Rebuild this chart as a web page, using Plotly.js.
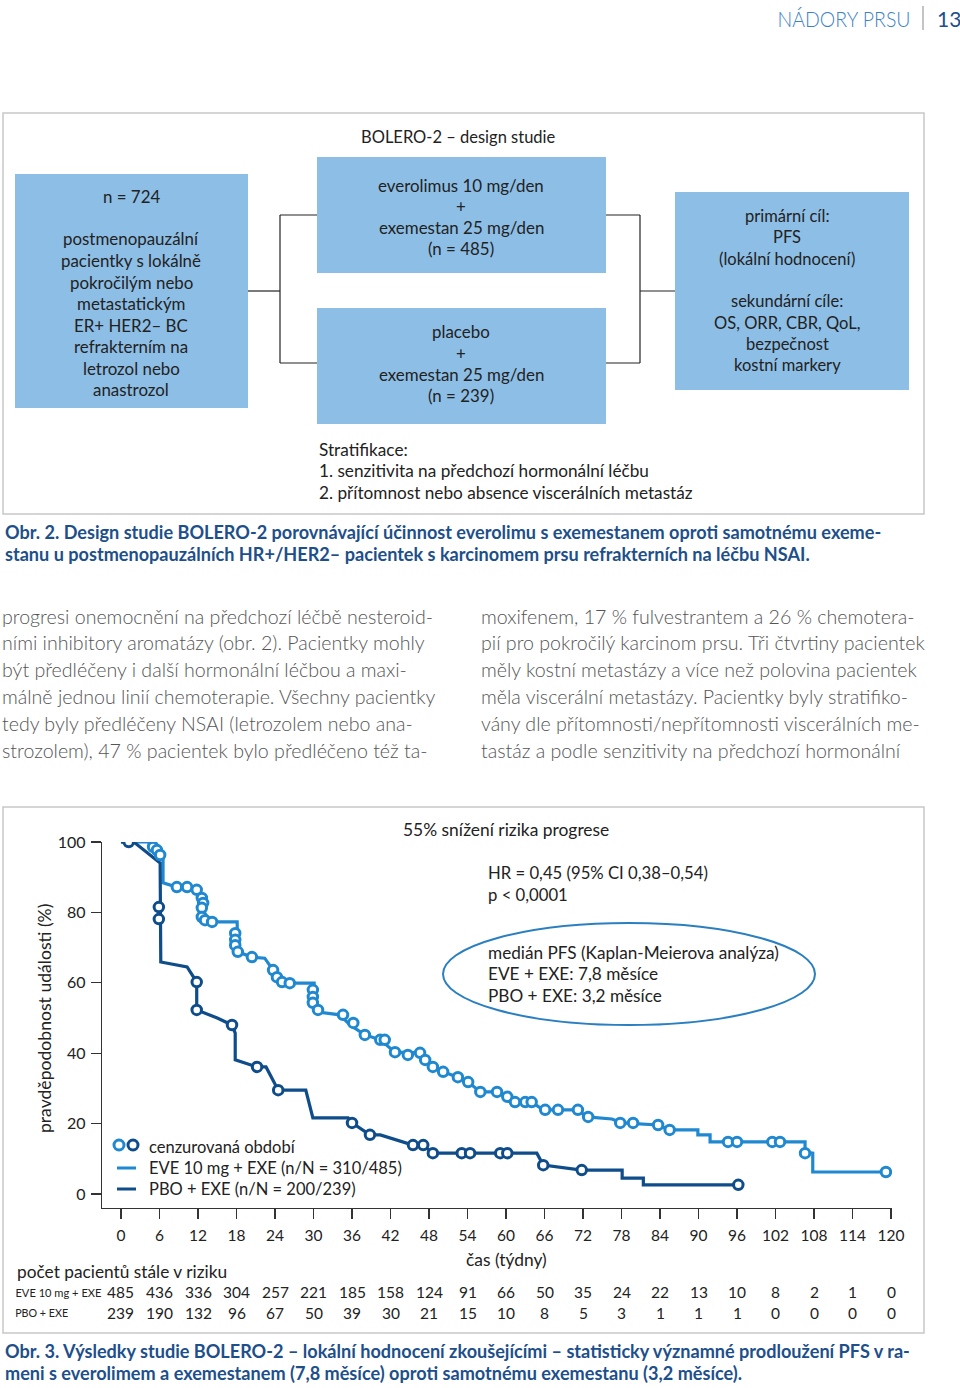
<!DOCTYPE html>
<html><head><meta charset="utf-8">
<script src="https://cdn.plot.ly/plotly-3.0.1.min.js"></script>
<style>html,body{margin:0;padding:0;background:#fff}#chart{width:960px;height:1388px}</style>
</head><body><div id="chart"></div>
<script>
// ---------------- DATA ----------------
const headerSection = "NÁDORY PRSU";
const pageNumber = "13";
const designTitle = "BOLERO-2 – design studie";
const populationLines = ["n = 724", "", "postmenopauzální", "pacientky s lokálně", "pokročilým nebo", "metastatickým", "ER+ HER2– BC", "refrakterním na", "letrozol nebo", "anastrozol"];
const armEveLines = ["everolimus 10 mg/den", "+", "exemestan 25 mg/den", "(n = 485)"];
const armPboLines = ["placebo", "+", "exemestan 25 mg/den", "(n = 239)"];
const endpointLines = ["primární cíl:", "PFS", "(lokální hodnocení)", "", "sekundární cíle:", "OS, ORR, CBR, QoL,", "bezpečnost", "kostní markery"];
const stratLines = ["Stratifikace:", "1. senzitivita na předchozí hormonální léčbu", "2. přítomnost nebo absence viscerálních metastáz"];
const fig2Caption = ["Obr. 2. Design studie BOLERO-2 porovnávající účinnost everolimu s exemestanem oproti samotnému exeme-", "stanu u postmenopauzálních HR+/HER2– pacientek s karcinomem prsu refrakterních na léčbu NSAI."];
const bodyLeft = ["progresi onemocnění na předchozí léčbě nesteroid-", "ními inhibitory aromatázy (obr. 2). Pacientky mohly", "být předléčeny i další hormonální léčbou a maxi-", "málně jednou linií chemoterapie. Všechny pacientky", "tedy byly předléčeny NSAI (letrozolem nebo ana-", "strozolem), 47 % pacientek bylo předléčeno též ta-"];
const bodyRight = ["moxifenem, 17 % fulvestrantem a 26 % chemotera-", "pií pro pokročilý karcinom prsu. Tři čtvrtiny pacientek", "měly kostní metastázy a více než polovina pacientek", "měla viscerální metastázy. Pacientky byly stratifiko-", "vány dle přítomnosti/nepřítomnosti viscerálních me-", "tastáz a podle senzitivity na předchozí hormonální"];
const riskReductionText = "55% snížení rizika progrese";
const hrLines = ["HR = 0,45 (95% CI 0,38–0,54)", "p < 0,0001"];
const medianLines = ["medián PFS (Kaplan-Meierova analýza)", "EVE + EXE: 7,8 měsíce", "PBO + EXE: 3,2 měsíce"];
const legendLabels = ["cenzurovaná období", "EVE 10 mg + EXE (n/N = 310/485)", "PBO + EXE (n/N = 200/239)"];
const yAxisTitle = "pravděpodobnost události (%)";
const xAxisTitle = "čas (týdny)";
const atRiskTitle = "počet pacientů stále v riziku";
const atRiskRowLabels = ["EVE 10 mg + EXE", "PBO + EXE"];
const fig3Caption = ["Obr. 3. Výsledky studie BOLERO-2 – lokální hodnocení zkoušejícími – statisticky významné prodloužení PFS v ra-", "meni s everolimem a exemestanem (7,8 měsíce) oproti samotnému exemestanu (3,2 měsíce)."];

const weekTicks = [0,6,12,18,24,30,36,42,48,54,60,66,72,78,84,90,96,102,108,114,120];
const pctTicks = [0,20,40,60,80,100];
const eveAtRisk = [485,436,336,304,257,221,185,158,124,91,66,50,35,24,22,13,10,8,2,1,0];
const pboAtRisk = [239,190,132,96,67,50,39,30,21,15,10,8,5,3,1,1,1,0,0,0,0];

// EVE + EXE curve (weeks, %)
const eveWeeks = [0,4.2,5.0,6.1,6.55,6.55,8.7,10.3,11.8,12.6,12.8,12.6,14.2,18.1,18.1,18.2,20.4,22.4,23.7,25.1,26.3,30.1,30.1,30.7,34.1,35.7,38.0,40.4,42.7,46.6,48.6,50.2,52.5,54.1,56.0,58.6,59.8,61.1,64.0,65.8,71.1,72.6,76.5,78.1,83.7,85.5,89.9,89.9,91.8,91.8,106.6,106.6,107.8,107.8,119.4];
const evePct   = [100,100,98.6,96.3,95.5,88.4,87.2,87.2,86.4,84.1,81.3,78.7,77.3,77.3,70.7,68.8,67.3,67.0,63.6,60.2,59.9,59.9,53.7,51.7,50.9,48.0,45.2,43.8,40.3,40.1,36.1,34.7,33.2,31.8,29.0,29.0,27.6,26.1,26.1,23.9,23.9,21.9,21.3,20.2,19.6,18.2,18.2,16.8,16.8,14.8,14.8,11.9,11.6,6.25,6.25];
const eveCensWeeks = [5.0,5.6,6.1,8.7,10.3,11.8,12.6,12.8,12.6,12.6,13.1,14.2,17.8,17.8,17.8,18.2,20.4,23.7,24.3,25.1,26.3,29.9,29.9,29.9,30.7,34.6,36.2,38.0,40.4,41.1,42.7,44.7,46.6,47.4,48.6,50.2,52.5,54.1,56.0,58.6,60.2,61.4,63.0,64.0,66.1,68.1,71.2,72.8,77.8,79.8,83.7,85.5,94.6,96.0,101.5,102.7,106.6,119.2];
const eveCensPct   = [98.6,97.7,96.3,87.2,87.2,86.4,84.1,82.7,81.3,78.7,77.8,77.3,74.1,72.2,70.7,68.8,67.3,63.6,61.6,60.2,59.9,58.0,56.0,54.3,52.3,50.9,48.6,45.2,43.8,43.8,40.3,39.5,40.1,38.1,36.1,34.7,33.2,31.8,29.0,29.0,27.6,26.1,26.1,26.1,23.9,23.9,23.9,21.9,20.2,20.2,19.6,18.2,14.8,14.8,14.8,14.8,11.6,6.25];

// PBO + EXE curve (weeks, %)
const pboWeeks = [0,2.2,6.1,6.2,10.3,11.8,11.8,15.0,17.3,17.8,17.8,21.2,22.6,24.5,28.8,29.9,35.4,36.0,38.8,40.4,45.5,47.1,48.6,64.8,65.8,71.8,78.1,78.1,81.4,81.4,96.2];
const pboPct   = [100,99.7,94.0,65.9,64.5,60.2,52.3,50.0,48.0,45.7,38.1,36.1,36.1,29.5,29.5,21.6,21.6,20.2,16.8,16.8,13.9,13.9,11.6,11.6,8.2,6.8,6.8,4.5,4.5,2.6,2.6];
const pboCensWeeks = [1.2,5.9,5.9,11.8,11.8,17.3,21.2,24.5,36.0,38.8,45.5,47.1,48.6,53.1,54.4,59.1,60.2,65.8,71.8,96.2];
const pboCensPct   = [100,81.5,78.1,60.2,52.3,48.0,36.1,29.5,20.2,16.8,13.9,13.9,11.6,11.6,11.6,11.6,11.6,8.2,6.8,2.6];

// ---------------- STYLE / LAYOUT ----------------
const W = 960, H = 1388;
const FONT = "Lato, 'Open Sans', sans-serif";
const LIGHT = "#1f88d0", DARK = "#0f4c8a", BOX = "#8dbee6", CAP = "#1d4f8b", TXT = "#222";
const X = p => p / W, Y = p => 1 - p / H;

const ann = [];
function txt(px, py, text, o) {
  o = o || {};
  const a = {xref: o.xref || 'paper', yref: 'paper', x: o.xref ? px : X(px), y: Y(py), text: text,
    showarrow: false, xanchor: o.anchor || 'left', yanchor: 'middle', textangle: o.angle || 0,
    font: {family: o.family || FONT, size: o.size || 16.5, color: o.color || TXT, weight: o.weight || 400}};
  if (o.width) a.width = o.width;
  ann.push(a);
}
const shapes = [];
function rect(x0, y0, x1, y1, fill, line, lw) {
  shapes.push({type: 'rect', xref: 'paper', yref: 'paper', x0: X(x0), x1: X(x1), y0: Y(y1), y1: Y(y0),
    fillcolor: fill || 'rgba(0,0,0,0)', line: {color: line || 'rgba(0,0,0,0)', width: lw || 0}, layer: 'below'});
}
function seg(x0, y0, x1, y1, color, w) {
  shapes.push({type: 'line', xref: 'paper', yref: 'paper', x0: X(x0), x1: X(x1), y0: Y(y0), y1: Y(y1),
    line: {color: color, width: w}});
}

// header (condensed via textLength below, centred on its reference span)
txt(843.5, 18, headerSection, {anchor: 'center', size: 21, color: '#3d82c4', weight: 300, width: 136});
seg(923, 6, 923, 30, '#8a8a8a', 1);
txt(935, 18, pageNumber, {size: 21, color: '#1e4f8c'});

// figure 2 - design
rect(3, 113, 924, 514, null, '#c8c8c8', 1.5);
txt(458, 137, designTitle, {anchor: 'center', size: 16.5});
rect(15, 174, 248, 408, BOX);
populationLines.forEach((t, i) => txt(131, 196 + i * 21.5, t, {anchor: 'center', size: 16.9}));
rect(317, 157, 606, 273, BOX);
armEveLines.forEach((t, i) => txt(461, 185 + i * 21.3, t, {anchor: 'center', size: 16.9}));
rect(317, 308, 606, 424, BOX);
armPboLines.forEach((t, i) => txt(461, 332 + i * 21.3, t, {anchor: 'center', size: 16.9}));
rect(675, 192, 909, 390, BOX);
endpointLines.forEach((t, i) => txt(787, 216 + i * 21.3, t, {anchor: 'center', size: 16.5}));
[[248,291,280,291],[280,215,280,363],[280,215,317,215],[280,363,317,363],
 [606,215,640,215],[606,363,640,363],[640,215,640,363],[640,291,675,291]].forEach(s => seg(s[0], s[1], s[2], s[3], '#222', 1.2));
stratLines.forEach((t, i) => txt(317, 449 + i * 21.5, t, {size: 17.2}));
fig2Caption.forEach((t, i) => txt(3, 532 + i * 22, t, {size: 18.1, color: CAP, weight: 700}));

// body text
bodyLeft.forEach((t, i) => txt(0, 616 + i * 26.8, t, {size: 19.6, color: '#555555', weight: 300}));
bodyRight.forEach((t, i) => txt(479, 616 + i * 26.8, t, {size: 19.6, color: '#555555', weight: 300}));

// figure 3 - KM chart
rect(3, 807, 924, 1333, null, '#c8c8c8', 1.5);
txt(506, 829, riskReductionText, {anchor: 'center', size: 17.4});
hrLines.forEach((t, i) => txt(486, 873 + i * 22, t, {size: 16.7}));
shapes.push({type: 'circle', xref: 'paper', yref: 'paper', x0: X(443), x1: X(815), y0: Y(1025), y1: Y(923),
  line: {color: '#2a7fc0', width: 2}});
medianLines.forEach((t, i) => txt(486, 952 + i * 21.5, t, {size: 17.2}));
// legend
[[119, LIGHT], [133, DARK]].forEach(c => shapes.push({type: 'circle', xref: 'paper', yref: 'paper',
  x0: X(c[0] - 5), x1: X(c[0] + 5), y0: Y(1150), y1: Y(1140), fillcolor: '#fff', line: {color: c[1], width: 3}}));
seg(117, 1168, 136, 1168, LIGHT, 3);
seg(117, 1189, 136, 1189, DARK, 3);
legendLabels.forEach((t, i) => txt(147, 1147 + i * 21, t, {size: 16.5}));
txt(44, 1019, yAxisTitle, {anchor: 'center', angle: -90, size: 17.6});
txt(506, 1259, xAxisTitle, {anchor: 'center', size: 17.4});
txt(15, 1271, atRiskTitle, {size: 17.3});
// row labels centred on their reference spans (15–101 and 15–68), condensed below
txt(58, 1292, atRiskRowLabels[0], {anchor: 'center', size: 12});
txt(41.5, 1312.5, atRiskRowLabels[1], {anchor: 'center', size: 12});
weekTicks.forEach((w, i) => {
  txt(w, 1292, String(eveAtRisk[i]), {xref: 'x', anchor: 'center', size: 15.5});
  txt(w, 1312.5, String(pboAtRisk[i]), {xref: 'x', anchor: 'center', size: 15.5});
});
fig3Caption.forEach((t, i) => txt(3, 1351 + i * 22, t, {size: 18.1, color: CAP, weight: 700}));

const traces = [
  {x: eveWeeks, y: evePct, mode: 'lines', line: {color: LIGHT, width: 3.2}, hoverinfo: 'skip'},
  {x: pboWeeks, y: pboPct, mode: 'lines', line: {color: DARK, width: 3.2}, hoverinfo: 'skip'},
  {x: eveCensWeeks, y: eveCensPct, mode: 'markers', marker: {symbol: 'circle', size: 9.5, color: '#fff', line: {color: LIGHT, width: 3}}, hoverinfo: 'skip'},
  {x: pboCensWeeks, y: pboCensPct, mode: 'markers', marker: {symbol: 'circle', size: 9.5, color: '#fff', line: {color: DARK, width: 3}}, hoverinfo: 'skip'}
];

const layout = {
  width: W, height: H, margin: {l: 0, r: 0, t: 0, b: 0}, paper_bgcolor: '#fff', plot_bgcolor: 'rgba(0,0,0,0)',
  showlegend: false, font: {family: FONT, color: TXT},
  xaxis: {domain: [X(102), X(892)], range: [-2.96, 120.15], tickvals: weekTicks, ticks: 'outside', ticklen: 10,
    tickcolor: '#333', tickwidth: 1.2, showline: true, linecolor: '#333', linewidth: 1.3, showgrid: false, zeroline: false,
    tickfont: {size: 15.5, family: FONT, color: TXT}, ticklabelstandoff: 3, fixedrange: true},
  yaxis: {domain: [Y(1208), Y(842)], range: [-3.98, 100], tickvals: pctTicks, ticks: 'outside', ticklen: 10,
    tickcolor: '#333', tickwidth: 1.2, showline: true, linecolor: '#333', linewidth: 1.3, showgrid: false, zeroline: false,
    tickfont: {size: 16, family: FONT, color: TXT}, ticklabelstandoff: 2, fixedrange: true},
  shapes: shapes, annotations: ann
};
// condensed look (the reference uses a condensed face) for the at-risk row labels and the running header
const condensed = {"EVE 10 mg + EXE": 86, "PBO + EXE": 53, "NÁDORY PRSU": 133};
Plotly.newPlot('chart', traces, layout, {displayModeBar: false, staticPlot: true}).then(gd => {
  gd.querySelectorAll('text.annotation-text').forEach(el => {
    const L = condensed[el.textContent];
    if (L) { el.setAttribute('textLength', L); el.setAttribute('lengthAdjust', 'spacingAndGlyphs'); }
  });
});
</script></body></html>
